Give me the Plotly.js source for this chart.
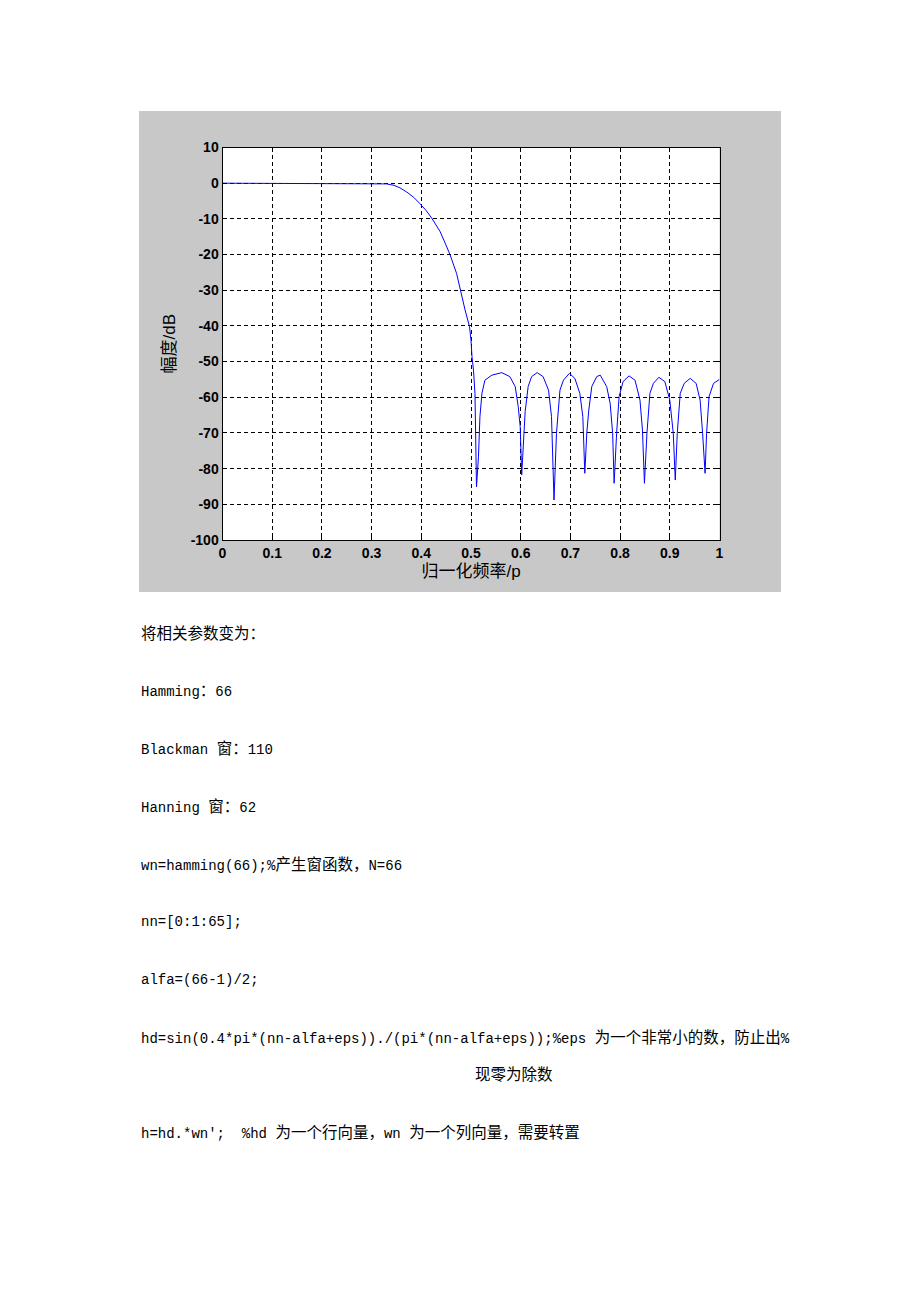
<!DOCTYPE html>
<html>
<head>
<meta charset="utf-8">
<script src="https://cdn.plot.ly/plotly-3.0.1.min.js"></script>
<style>
  html, body { margin: 0; padding: 0; background: #fff; }
</style>
</head>
<body>
<div id="plot"></div>
<script>
// normalised frequency (w/pi) and magnitude in dB
var freq = [0, 0.1, 0.2, 0.3, 0.315, 0.33, 0.345, 0.357, 0.371, 0.385, 0.397,
  0.41, 0.421, 0.438, 0.448, 0.458, 0.471, 0.478, 0.488, 0.497, 0.5,
  0.502, 0.505, 0.508, 0.511, 0.515, 0.518, 0.522, 0.528, 0.542, 0.562,
  0.578, 0.589, 0.595, 0.599, 0.602, 0.605, 0.609, 0.615, 0.622, 0.633,
  0.645, 0.656, 0.662, 0.667, 0.672, 0.679, 0.686, 0.698, 0.709, 0.719,
  0.725, 0.729, 0.733, 0.737, 0.743, 0.753, 0.76, 0.773, 0.78, 0.785,
  0.788, 0.793, 0.798, 0.806, 0.818, 0.83, 0.84, 0.845, 0.849, 0.854,
  0.86, 0.867, 0.878, 0.89, 0.9, 0.907, 0.911, 0.915, 0.921, 0.929,
  0.941, 0.953, 0.961, 0.966, 0.971, 0.974, 0.979, 0.988, 0.998, 1.0];
var magDb = [0, 0, 0, 0, -0.05, -0.2, -0.6, -1.3, -2.5, -4.0, -5.7,
  -7.7, -9.8, -13.6, -16.8, -20.1, -25.3, -29.9, -35.5, -40.2, -44,
  -48.6, -52.4, -58.9, -85.1, -76.7, -65.4, -58.9, -55.2, -53.8, -53.1,
  -54.2, -57, -62.6, -68.2, -81.8, -74.8, -64, -57, -54.2, -53.1,
  -54.2, -58, -65.4, -88.8, -70.1, -58, -55.2, -53.3, -54.7, -58.9,
  -65.4, -81.3, -70, -63.6, -57, -54.2, -53.8, -57, -61.7, -70.1,
  -84.1, -70.1, -59.8, -55.6, -54, -55.2, -60.8, -69.2, -84.1, -70.1,
  -58.9, -56.1, -54.4, -55.6, -60.8, -70.1, -83.2, -70.1, -58.9, -56.1,
  -54.7, -56.1, -60.8, -70.1, -81.3, -70.1, -59.8, -56.1, -55, -55];

var xTicks = [0, 0.1, 0.2, 0.3, 0.4, 0.5, 0.6, 0.7, 0.8, 0.9, 1];
var yTicks = [10, 0, -10, -20, -30, -40, -50, -60, -70, -80, -90, -100];

// document text below the figure
var docLines = [
  "将相关参数变为：",
  "Hamming：66",
  "Blackman 窗：110",
  "Hanning 窗：62",
  "wn=hamming(66);%产生窗函数，N=66",
  "nn=[0:1:65];",
  "alfa=(66-1)/2;",
  "hd=sin(0.4*pi*(nn-alfa+eps))./(pi*(nn-alfa+eps));%eps 为一个非常小的数，防止出%",
  "现零为除数",
  "h=hd.*wn';\u00a0\u00a0%hd 为一个行向量，wn 为一个列向量，需要转置"
];
var lineY = [634, 692, 749, 807, 865, 922, 980, 1038, 1075, 1133];
var lineX = [139, 139, 139, 139, 139, 139, 139, 139, 473, 139];

var W = 920, H = 1302;
function px(x) { return x / W; }
function py(y) { return 1 - y / H; }

// bigger size for the CJK runs, latin stays monospace
function cjk(s) {
  return s.replace(/([\u3000-\u9fff\uff00-\uffef]+)/g,
    '<span style="font-size:15.5px">$1</span>');
}

var trace = {
  x: freq,
  y: magDb,
  type: "scatter",
  mode: "lines",
  line: {color: "#0000ff", width: 1},
  hoverinfo: "skip"
};

var annots = docLines.map(function(t, i) {
  return {
    xref: "paper", yref: "paper",
    x: px(lineX[i]), y: py(lineY[i]),
    xanchor: "left", yanchor: "middle",
    text: cjk(t),
    showarrow: false,
    font: {family: "Liberation Mono, Noto Sans CJK SC", size: 14, color: "#000"}
  };
});

var tickFont = {family: "Liberation Sans, Arial", size: 14, color: "#000", weight: "bold"};
var titleFont = {family: "Liberation Sans, Noto Sans CJK SC", size: 17, color: "#000"};

var layout = {
  width: W,
  height: H,
  margin: {l: 0, r: 0, t: 0, b: 0},
  paper_bgcolor: "#ffffff",
  plot_bgcolor: "#ffffff",
  showlegend: false,
  xaxis: {
    domain: [px(222.5), px(719.5)],
    range: [0, 1],
    tickvals: xTicks,
    ticktext: xTicks.map(String),
    showline: true, mirror: "ticks", linecolor: "#000", linewidth: 1,
    ticks: "inside", ticklen: 4, tickcolor: "#000",
    showgrid: true, gridcolor: "#000", gridwidth: 1, griddash: "4px,3px",
    zeroline: false,
    tickfont: tickFont,
    title: {text: "归一化频率/p", font: titleFont, standoff: 5}
  },
  yaxis: {
    domain: [py(540), py(147.5)],
    range: [-100, 10],
    tickvals: yTicks,
    ticktext: yTicks.map(String),
    showline: true, mirror: "ticks", linecolor: "#000", linewidth: 1,
    ticks: "inside", ticklen: 4, tickcolor: "#000",
    showgrid: true, gridcolor: "#000", gridwidth: 1, griddash: "4px,3px",
    zeroline: false,
    tickfont: tickFont,
    title: {text: "幅度/dB", font: titleFont, standoff: 10}
  },
  shapes: [
    {type: "rect", xref: "paper", yref: "paper", layer: "below",
     x0: px(139), x1: px(781), y0: py(592), y1: py(111),
     fillcolor: "#c9c8c9", line: {width: 0}},
    {type: "rect", xref: "paper", yref: "paper", layer: "below",
     x0: px(222.5), x1: px(719.5), y0: py(540), y1: py(147.5),
     fillcolor: "#ffffff", line: {width: 0}}
  ],
  annotations: annots
};

Plotly.newPlot("plot", [trace], layout, {staticPlot: true});
</script>
</body>
</html>
